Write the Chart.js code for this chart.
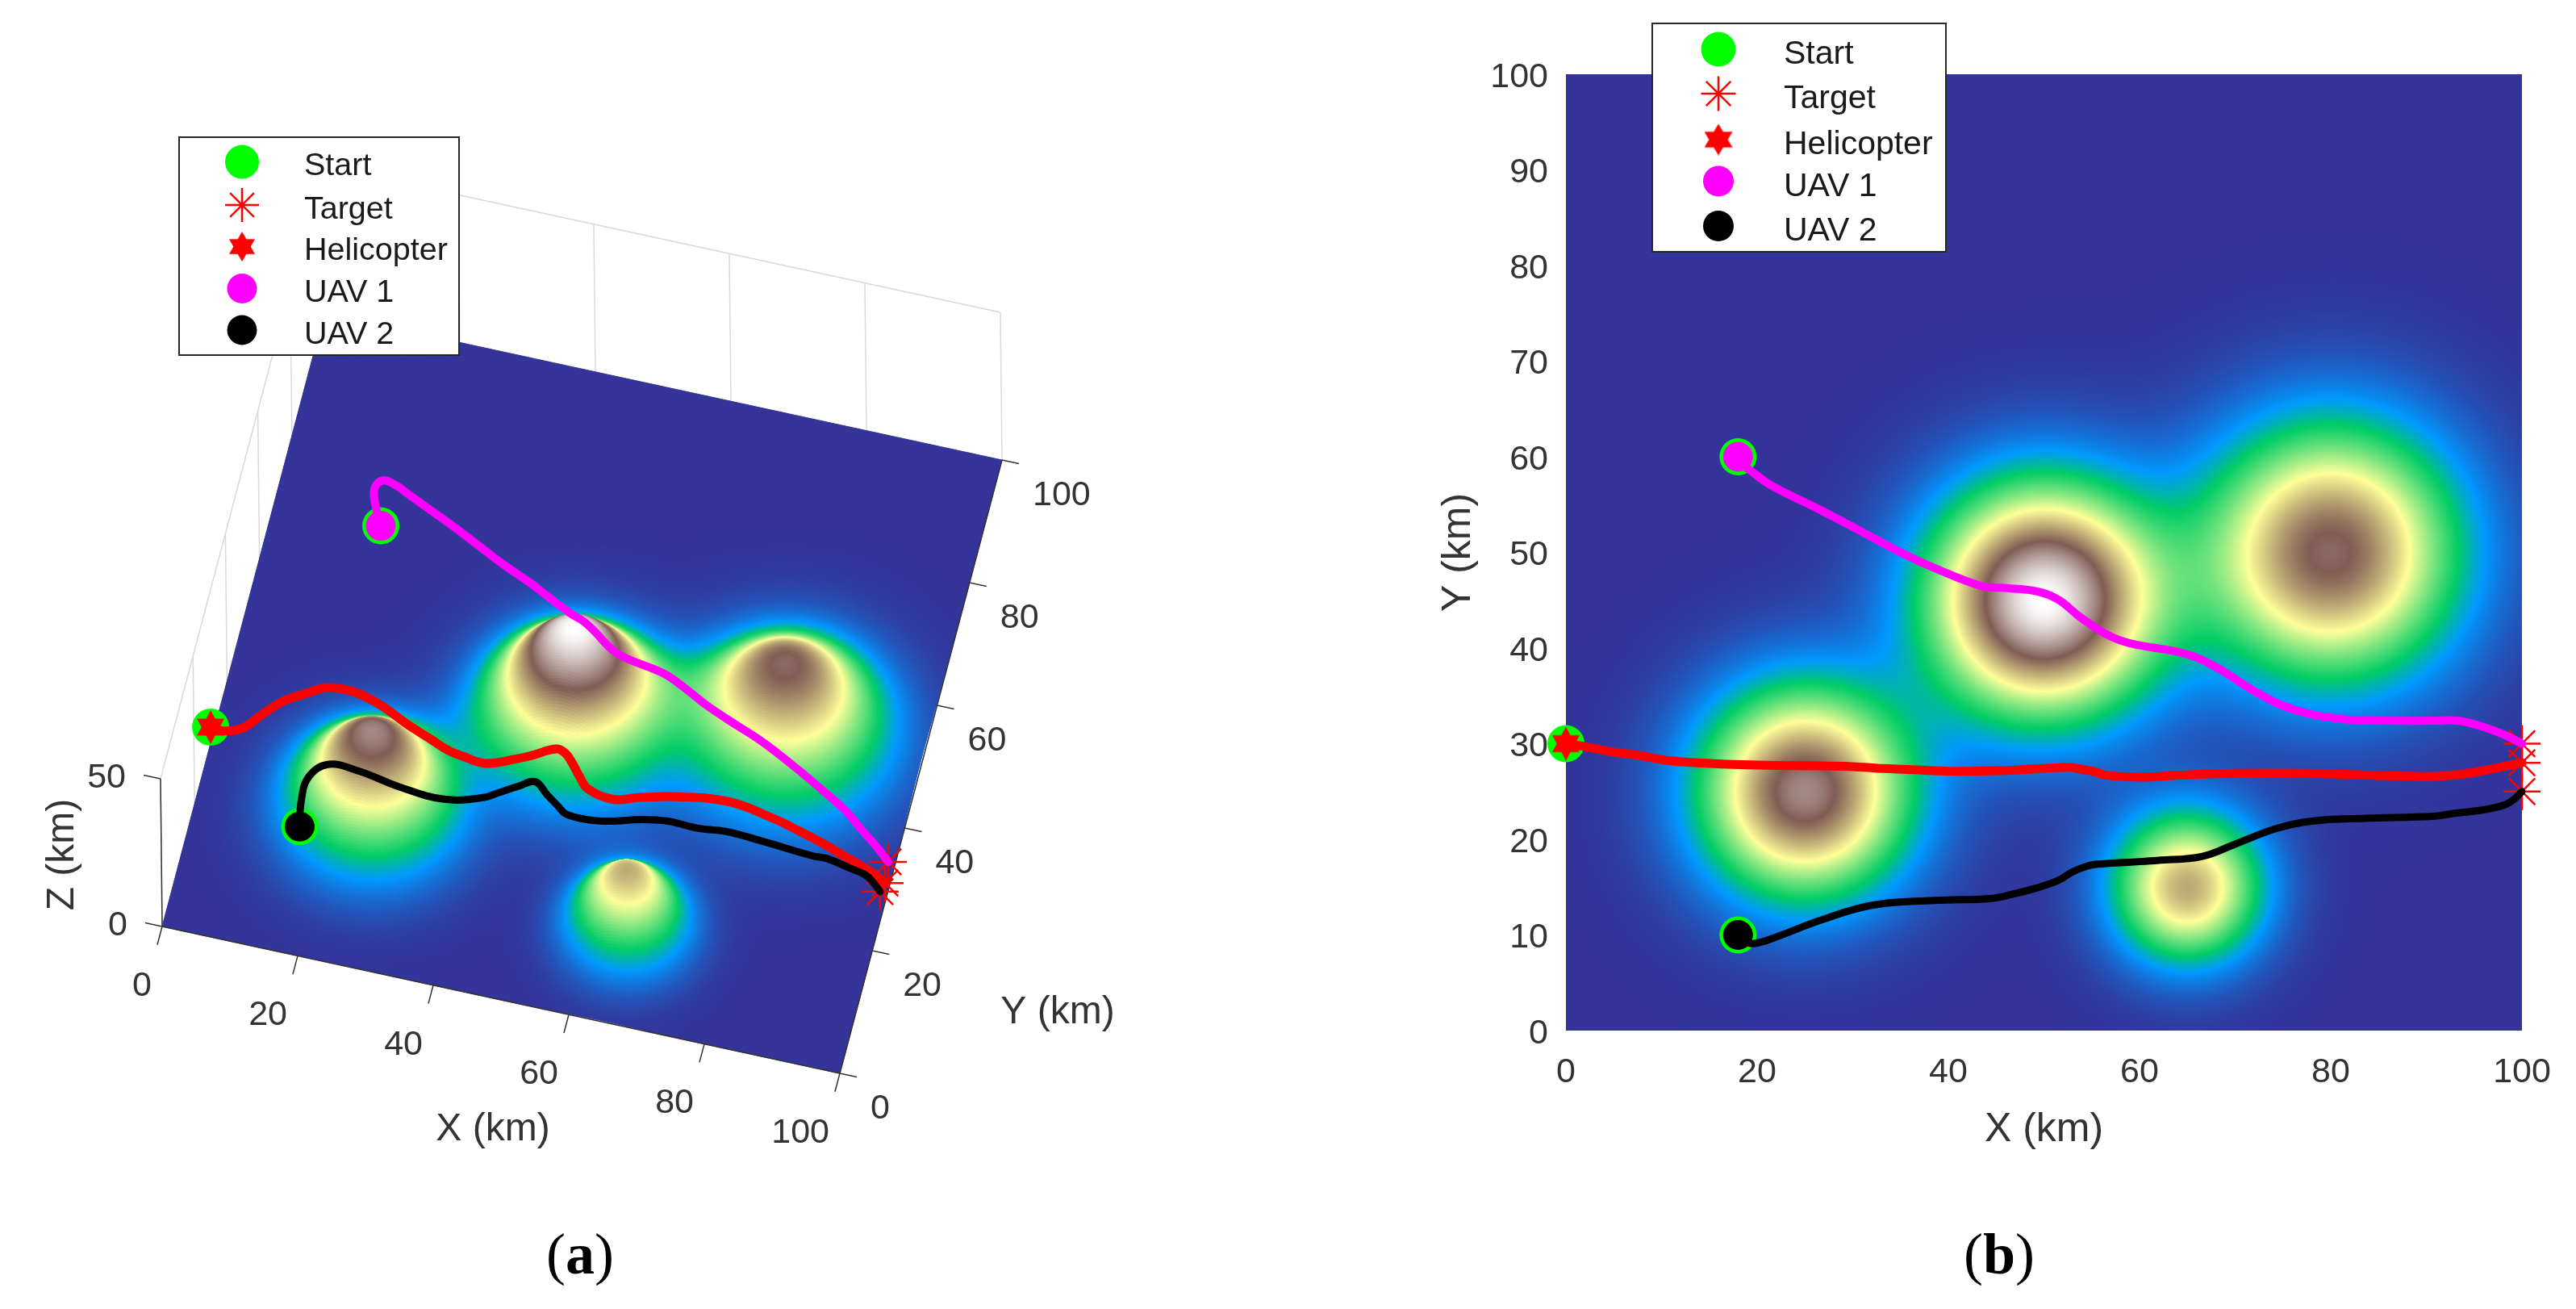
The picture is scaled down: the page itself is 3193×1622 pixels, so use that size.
<!DOCTYPE html>
<html>
<head>
<meta charset="utf-8">
<title>UAV paths</title>
<script src="https://cdn.jsdelivr.net/npm/chart.js@4/dist/chart.umd.js"></script>
<style>
  html, body { margin: 0; padding: 0; background: #fff; }
  #wrap { position: relative; width: 3193px; height: 1622px; overflow: hidden; }
  #wrap canvas { position: absolute; top: 0; }
  #chartA { left: 0; }
  #chartB { left: 1600px; }
</style>
</head>
<body>
<div id="wrap">
  <canvas id="chartA" width="1600" height="1622"></canvas>
  <canvas id="chartB" width="1593" height="1622"></canvas>
</div>
<script>
// flight paths (km)
var heliX = [0, 2, 5, 7.5, 10.9, 13.8, 18.5, 24.1, 29.9, 33.2, 35.7, 38, 41.3, 46, 48, 51.7, 53, 54, 55.2, 56.5, 60.3, 64, 69.7, 77.3, 84, 88, 91.5, 95, 98, 100];
var heliY = [30, 29.7, 29.1, 28.8, 28.2, 28, 27.8, 27.7, 27.6, 27.4, 27.3, 27.2, 27.1, 27.2, 27.3, 27.5, 27.5, 27.3, 27.1, 26.7, 26.5, 26.7, 26.9, 26.9, 26.7, 26.6, 26.6, 27, 27.6, 28];
var heliZ = [5.2, 5.5, 9.3, 15, 22.8, 27, 32.3, 31.6, 25.7, 23, 20.8, 20, 19.5, 23.2, 25, 28.7, 28, 25.9, 22, 19.3, 18, 20, 22.7, 24.8, 22.8, 20.5, 18, 14, 10, 6.3];

var uav1X = [18, 17.3, 17.3, 18.6, 21, 23, 26.5, 30.5, 35, 38.7, 43.4, 45.6, 49.4, 51.6, 53.7, 56.6, 59, 64.8, 68, 72, 76, 81, 86, 90.8, 93.3, 95.5, 98, 100];
var uav1Y = [60, 59.8, 59.3, 59, 57.3, 56.2, 54.5, 52.4, 50, 48.3, 46.5, 46.3, 45.9, 45, 43.3, 41.4, 40.5, 39.4, 38, 35.5, 33.6, 32.6, 32.4, 32.4, 32.4, 31.9, 31, 30];
var uav1Z = [20, 27, 33.7, 37.7, 40.8, 41.2, 41.4, 42, 42.4, 42, 41.3, 39, 35.3, 35.5, 36.5, 36, 36, 36, 36, 37, 37.5, 35, 29, 22, 18, 14.4, 11.5, 9.3];

var uav2X = [18, 18.4, 19.6, 22.3, 26.5, 32, 38.5, 44.3, 46.5, 49.2, 51.5, 53, 54.5, 55.6, 58.8, 62, 66.5, 70, 74.2, 78, 83.5, 90.7, 92.8, 96.1, 98.2, 99.2, 100];
var uav2Y = [10, 9.5, 9.1, 9.9, 11.5, 13.1, 13.6, 13.8, 14.2, 14.9, 15.7, 16.6, 17.2, 17.4, 17.6, 17.8, 18.2, 19.5, 21.1, 21.9, 22.2, 22.4, 22.7, 23.1, 23.6, 24.2, 25];
var uav2Z = [22, 32, 41.4, 45.4, 41.9, 36, 34, 37, 39, 41, 42, 36.5, 32, 29.5, 28.8, 29.5, 31.5, 30, 26.3, 25.5, 24.2, 22.5, 22, 19.5, 17.3, 14, 9.6];

var targetX = [100, 100, 100];
var targetY = [30, 28, 25];
var targetZ = [9.3, 6.3, 9.6];

var hillX = [25, 50, 80, 65];
var hillY = [25, 45, 50, 15];
var hillTop = [26.2, 32, 24.6, 20.2];
var hillWidth = [10.4, 11.4, 12.6, 7.5];

// terrain colours
var colourStops = [0, 0.15, 0.25, 0.5, 0.75, 1];
var colourRGB = [[51,51,153],[0,153,255],[0,204,102],[255,255,153],[128,92,84],[255,255,255]];
var zMax = 32;

var xTicks = [0, 20, 40, 60, 80, 100];
var yTicksA = [0, 20, 40, 60, 80, 100];
var zTicks = [0, 50];
var legendNames = ['Start', 'Target', 'Helicopter', 'UAV 1', 'UAV 2'];

var FONT = '"Liberation Sans", Arial, sans-serif';
var TEXT = '#333333';

function height(x, y) {
  var z = 0;
  for (var i = 0; i < hillX.length; i++) {
    var dx = (x - hillX[i]) / hillWidth[i], dy = (y - hillY[i]) / hillWidth[i];
    z += hillTop[i] * Math.exp(-(dx * dx + dy * dy));
  }
  return z;
}

function colourAt(z) {
  var v = Math.min(1, z / zMax), i = 0;
  while (i < colourStops.length - 2 && v > colourStops[i + 1]) i++;
  var t = (v - colourStops[i]) / (colourStops[i + 1] - colourStops[i]);
  var a = colourRGB[i], b = colourRGB[i + 1];
  return [a[0] + (b[0] - a[0]) * t, a[1] + (b[1] - a[1]) * t, a[2] + (b[2] - a[2]) * t];
}

// six pointed marker for the helicopter
function hexagram(w, h) {
  var c = document.createElement('canvas');
  c.width = w; c.height = h;
  var g = c.getContext('2d');
  g.fillStyle = '#ff0000';
  for (var k = 0; k < 2; k++) {
    var s = k ? -1 : 1;
    g.beginPath();
    g.moveTo(w / 2, h / 2 - s * h / 2);
    g.lineTo(w, h / 2 + s * h / 4);
    g.lineTo(0, h / 2 + s * h / 4);
    g.closePath();
    g.fill();
  }
  return c;
}

// same dataset list for both panels, only the point mapping differs
function makeDatasets(map, sizes) {
  function pts(xs, ys, z) { return xs.map(function (v, i) { return map(v, ys[i], z[i]); }); }
  function line(xs, ys, z, col, w, ord) {
    return { data: pts(xs, ys, z), showLine: true, borderColor: col, borderWidth: w, pointRadius: 0, tension: 0.4, order: ord, clip: false, borderCapStyle: 'round' };
  }
  function mark(p, style, col, r, ord, stroke) {
    return { data: p, showLine: false, pointStyle: style, pointRadius: r, backgroundColor: col, borderColor: stroke || col, pointBorderWidth: stroke ? 2.5 : 0, order: ord, clip: false };
  }
  var starts = [map(heliX[0], heliY[0], heliZ[0]), map(uav1X[0], uav1Y[0], uav1Z[0]), map(uav2X[0], uav2Y[0], uav2Z[0])];
  return [
    mark(starts, 'circle', '#00ff00', sizes.green, 9),
    mark(pts(targetX, targetY, targetZ), 'star', '#ff0000', sizes.green, 8, '#ff0000'),
    line(heliX, heliY, heliZ, '#ff0000', 11, 7),
    line(uav1X, uav1Y, uav1Z, '#ff00ff', 10, 6),
    line(uav2X, uav2Y, uav2Z, '#000000', 9, 5),
    mark([starts[0]], hexagram(sizes.hexW, sizes.hexH), '#ff0000', sizes.hexH / 2, 4),
    mark([starts[1]], 'circle', '#ff00ff', sizes.dot, 3),
    mark([starts[2]], 'circle', '#000000', sizes.dot, 2)
  ];
}

function drawLegend(ctx, box, rows, symX, textX, sizes, fontPx, textDrop) {
  ctx.save();
  ctx.fillStyle = '#fff';
  ctx.fillRect(box[0], box[1], box[2], box[3]);
  ctx.strokeStyle = '#262626';
  ctx.lineWidth = 2;
  ctx.strokeRect(box[0], box[1], box[2], box[3]);
  var draw = Chart.helpers.drawPoint;
  var opts = [
    { pointStyle: 'circle', radius: sizes.green, borderWidth: 0, fill: '#00ff00' },
    { pointStyle: 'star', radius: sizes.green, borderWidth: 2.5, fill: '#ff0000' },
    { pointStyle: hexagram(sizes.hexW, sizes.hexH), radius: sizes.hexH / 2, borderWidth: 0, fill: '#ff0000' },
    { pointStyle: 'circle', radius: sizes.dot, borderWidth: 0, fill: '#ff00ff' },
    { pointStyle: 'circle', radius: sizes.dot, borderWidth: 0, fill: '#000000' }
  ];
  ctx.font = fontPx + 'px ' + FONT;
  ctx.textAlign = 'left';
  ctx.textBaseline = 'middle';
  legendNames.forEach(function (name, i) {
    ctx.fillStyle = opts[i].fill;
    ctx.strokeStyle = opts[i].fill;
    ctx.lineWidth = opts[i].borderWidth;
    draw(ctx, opts[i], symX, rows[i]);
    ctx.fillStyle = '#1a1a1a';
    ctx.fillText(name, textX, rows[i] + textDrop);
  });
  ctx.restore();
}

function drawCaption(ctx, letter, cx, cy) {
  ctx.save();
  ctx.fillStyle = '#000';
  ctx.textBaseline = 'alphabetic';
  ctx.textAlign = 'left';
  var reg = '72px "Liberation Serif", serif', bold = 'bold 72px "Liberation Serif", serif';
  ctx.font = reg;
  var wp = ctx.measureText('(').width, wc = ctx.measureText(')').width;
  ctx.font = bold;
  var wl = ctx.measureText(letter).width;
  var x = cx - (wp + wl + wc) / 2;
  ctx.font = reg; ctx.fillText('(', x, cy);
  ctx.font = bold; ctx.fillText(letter, x + wp, cy);
  ctx.font = reg; ctx.fillText(')', x + wp + wl, cy);
  ctx.restore();
}

/* ---------- panel (a), oblique 3D view ---------- */
var origin = [201, 1148];
var xVec = [8.4, 1.82];
var yVec = [2.01, -7.6];
var zVec = [-0.04, -3.66];

function project(x, y, z) {
  return {
    x: origin[0] + x * xVec[0] + y * yVec[0] + z * zVec[0],
    y: origin[1] + x * xVec[1] + y * yVec[1] + z * zVec[1]
  };
}

var legendSizesA = { green: 21, dot: 18.5, hexW: 32, hexH: 37 };
var legendSizesB = { green: 21.5, dot: 19, hexW: 35, hexH: 39 };
var plotSizes = { green: 23, dot: 18.5, hexW: 34, hexH: 42 };

var scene3d = {
  id: 'scene3d',
  beforeDatasetsDraw: function (chart) {
    var ctx = chart.ctx, sx = chart.scales.x, sy = chart.scales.y;
    function P(x, y, z) { var p = project(x, y, z); return [sx.getPixelForValue(p.x), sy.getPixelForValue(p.y)]; }
    function seg(a, b) { ctx.beginPath(); ctx.moveTo(a[0], a[1]); ctx.lineTo(b[0], b[1]); ctx.stroke(); }

    ctx.save();
    // back walls
    ctx.strokeStyle = '#d9d9d9';
    ctx.lineWidth = 1.5;
    xTicks.forEach(function (t) { seg(P(t, 100, 0), P(t, 100, 50)); });
    yTicksA.forEach(function (t) { seg(P(0, t, 0), P(0, t, 50)); });
    seg(P(0, 100, 50), P(100, 100, 50));
    seg(P(0, 0, 50), P(0, 100, 50));

    // surface, far cells first
    var n = 400, step = 100 / n, i, j;
    var px = [], col = [];
    for (j = 0; j <= n; j++) {
      px[j] = []; col[j] = [];
      for (i = 0; i <= n; i++) {
        var z = height(i * step, j * step), c = colourAt(z);
        px[j][i] = P(i * step, j * step, z);
        col[j][i] = 'rgb(' + Math.round(c[0]) + ',' + Math.round(c[1]) + ',' + Math.round(c[2]) + ')';
      }
    }
    ctx.lineWidth = 1;
    for (j = n - 1; j >= 0; j--) {
      for (i = 0; i < n; i++) {
        var a = px[j][i], b = px[j][i + 1], e = px[j + 1][i + 1], d = px[j + 1][i];
        ctx.fillStyle = col[j][i]; ctx.strokeStyle = col[j][i];
        ctx.beginPath();
        ctx.moveTo(a[0], a[1]); ctx.lineTo(b[0], b[1]); ctx.lineTo(e[0], e[1]); ctx.lineTo(d[0], d[1]);
        ctx.closePath(); ctx.fill(); ctx.stroke();
      }
    }

    // axes and ticks
    ctx.strokeStyle = '#333333';
    ctx.lineWidth = 1.5;
    seg(P(0, 0, 0), P(100, 0, 0));
    seg(P(100, 0, 0), P(100, 100, 0));
    seg(P(0, 0, 0), P(0, 0, 50));
    xTicks.forEach(function (t) { seg(P(t, 0, 0), P(t, -3, 0)); });
    yTicksA.forEach(function (t) { seg(P(100, t, 0), P(102.5, t, 0)); });
    zTicks.forEach(function (t) { seg(P(0, 0, t), P(-2.5, 0, t)); });

    // tick labels
    ctx.fillStyle = TEXT;
    ctx.font = '43px ' + FONT;
    ctx.textBaseline = 'middle';
    ctx.textAlign = 'right';
    xTicks.forEach(function (t) { var p = P(t, 0, 0); ctx.fillText(String(t), p[0] - 13, p[1] + 74); });
    zTicks.forEach(function (t) { var p = P(0, 0, t); ctx.fillText(String(t), p[0] - 43, p[1] - 1); });
    ctx.textAlign = 'left';
    yTicksA.forEach(function (t) { var p = P(100, t, 0); ctx.fillText(String(t), p[0] + 38, p[1] + 44); });

    // axis titles
    ctx.textAlign = 'center';
    ctx.font = '48px ' + FONT;
    ctx.fillText('X (km)', 611, 1400);
    ctx.fillText('Y (km)', 1311, 1255);
    ctx.translate(78, 1059);
    ctx.rotate(-Math.PI / 2);
    ctx.fillText('Z (km)', 0, 0);
    ctx.restore();
  },
  afterDraw: function (chart) {
    drawLegend(chart.ctx, [222, 170, 347, 270], [200.6, 254, 305.6, 357.5, 409], 300, 377, legendSizesA, 39.5, 6);
    drawCaption(chart.ctx, 'a', 719, 1578);
  }
};

new Chart(document.getElementById('chartA'), {
  type: 'scatter',
  data: { datasets: makeDatasets(project, plotSizes) },
  options: {
    responsive: false,
    devicePixelRatio: 1,
    animation: false,
    layout: { padding: 0, autoPadding: false },
    plugins: { legend: { display: false }, tooltip: { enabled: false } },
    scales: {
      x: { type: 'linear', display: false, min: 0, max: 1600 },
      y: { type: 'linear', display: false, min: 0, max: 1622, reverse: true }
    }
  },
  plugins: [scene3d]
});

/* ---------- panel (b), seen from above ---------- */
var terrainMap = {
  id: 'terrainMap',
  beforeDatasetsDraw: function (chart) {
    var ctx = chart.ctx, area = chart.chartArea, sx = chart.scales.x, sy = chart.scales.y;
    var w = Math.round(area.right - area.left), h = Math.round(area.bottom - area.top);
    var img = ctx.createImageData(w, h);
    for (var r = 0; r < h; r++) {
      for (var q = 0; q < w; q++) {
        var col = colourAt(height(sx.getValueForPixel(area.left + q + 0.5), sy.getValueForPixel(area.top + r + 0.5)));
        var k = (r * w + q) * 4;
        img.data[k] = col[0]; img.data[k + 1] = col[1]; img.data[k + 2] = col[2]; img.data[k + 3] = 255;
      }
    }
    ctx.putImageData(img, Math.round(area.left), Math.round(area.top));
  },
  afterDraw: function (chart) {
    drawLegend(chart.ctx, [448, 29, 364, 283], [61, 116, 173, 224.5, 280], 530, 611, legendSizesB, 41, 7);
    drawCaption(chart.ctx, 'b', 878, 1578);
  }
};

new Chart(document.getElementById('chartB'), {
  type: 'scatter',
  data: { datasets: makeDatasets(function (x, y) { return { x: x, y: y }; }, plotSizes) },
  options: {
    responsive: false,
    devicePixelRatio: 1,
    animation: false,
    layout: { padding: { top: 92, right: 67, bottom: 0, left: 0 }, autoPadding: false },
    plugins: { legend: { display: false }, tooltip: { enabled: false } },
    scales: {
      x: {
        type: 'linear', min: 0, max: 100,
        afterFit: function (s) { s.height = 345; },
        grid: { display: false }, border: { display: false },
        ticks: { stepSize: 20, color: TEXT, padding: 18, maxRotation: 0, font: { size: 43, family: FONT } },
        title: { display: true, text: 'X (km)', color: TEXT, font: { size: 50, family: FONT }, padding: { bottom: 192 } }
      },
      y: {
        type: 'linear', min: 0, max: 100,
        afterFit: function (s) { s.width = 341; },
        grid: { display: false }, border: { display: false },
        ticks: { stepSize: 10, color: TEXT, padding: 14, labelOffset: 4, font: { size: 43, family: FONT } },
        title: { display: true, text: 'Y (km)', color: TEXT, font: { size: 50, family: FONT }, padding: { top: 178 } }
      }
    }
  },
  plugins: [terrainMap]
});
</script>
</body>
</html>
